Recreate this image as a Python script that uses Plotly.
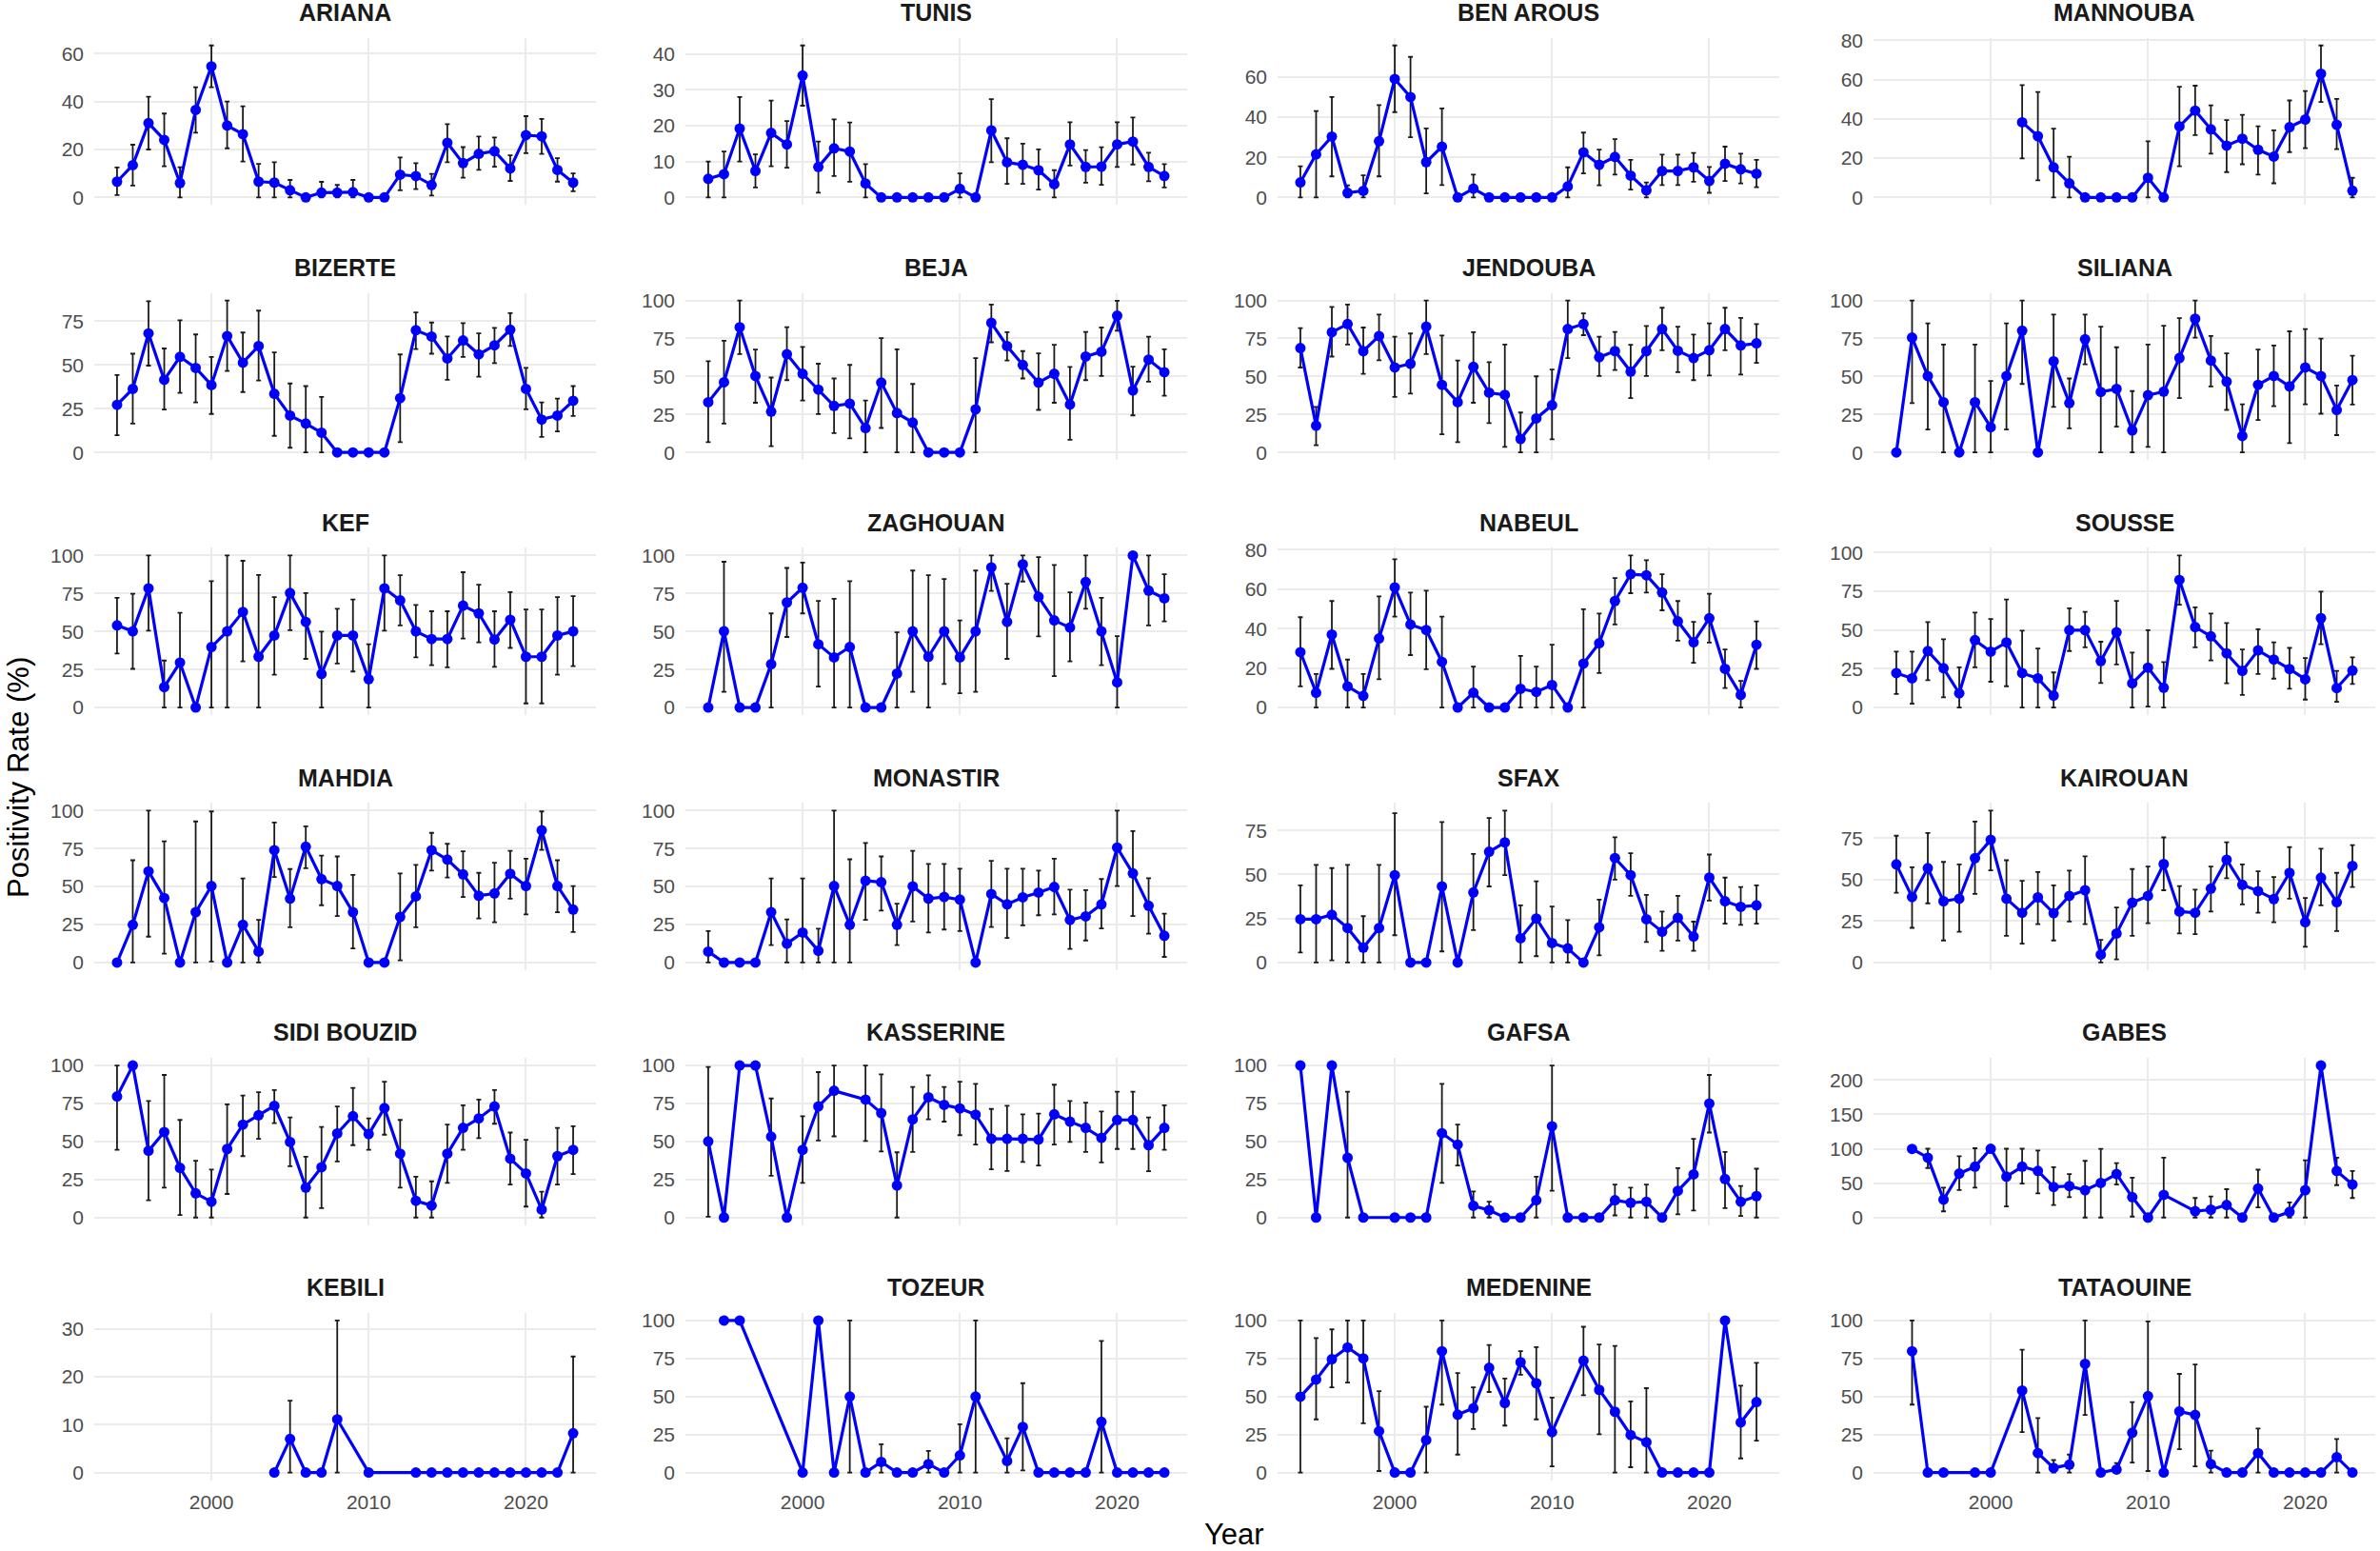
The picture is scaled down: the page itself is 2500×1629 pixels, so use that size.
import plotly.graph_objects as go

YEARS = list(range(1994, 2024))

PROVINCES = ["ARIANA", "TUNIS", "BEN AROUS", "MANNOUBA",
             "BIZERTE", "BEJA", "JENDOUBA", "SILIANA",
             "KEF", "ZAGHOUAN", "NABEUL", "SOUSSE",
             "MAHDIA", "MONASTIR", "SFAX", "KAIROUAN",
             "SIDI BOUZID", "KASSERINE", "GAFSA", "GABES",
             "KEBILI", "TOZEUR", "MEDENINE", "TATAOUINE"]

N = None

ARIANA_RATE = [6.6,13.5,31,24,6,36.5,54.7,30,26.4,6.6,6.2,3,0,2,2,2.2,0,0,9.5,8.9,5.2,22.8,14.3,18.2,19.3,12.1,26,25.5,11.5,6.2]
ARIANA_LO = [1,5,20,13,0,27,46,20.5,15,0,0,0,0,0,0,0,0,0,3,3.5,0.8,14.7,8.2,11.5,12.8,6.9,18.5,18.2,6.6,2.6]
ARIANA_HI = [12.5,22,42,35,12.6,46,63.4,40,38,14,14.7,7.3,0,6.5,5.2,7.3,0,0,16.7,14.3,9.8,30.6,21,25.4,25,17.6,33.9,32.8,16.4,10]

TUNIS_RATE = [5.2,6.5,19.2,7.4,18,14.8,34,8.5,13.7,12.8,3.9,0,0,0,0,0,2.4,0,18.7,9.8,9.1,7.6,3.7,14.8,8.5,8.6,14.8,15.6,8.5,6]
TUNIS_LO = [0,0,10,2.8,8.7,8.3,25.6,1.3,6,4.4,0,0,0,0,0,0,0,0,9.8,3.8,3.8,2.2,0,8.9,4.1,3.5,8.5,9.2,4.5,2.8]
TUNIS_HI = [10,12.8,28,12,27,21.3,42.4,15.6,21.8,20.9,9.3,0,0,0,0,0,6.7,0,27.4,16.5,15,13.4,7.6,21,13.2,14,21,22.3,12.5,9.3]

BEN_AROUS_RATE = [7.5,21.5,30.3,2.3,3.3,28,59,50,17.6,25.3,0,4.4,0,0,0,0,0,5.5,22.5,16.3,20.2,10.9,3.6,13.2,13.2,15,8.2,16.8,14,11.8]
BEN_AROUS_LO = [0,0,10.5,0,0,10.5,42.5,30,2,6.2,0,0,0,0,0,0,0,0,12,6,11.4,3.9,0,6.2,6.2,7.8,2.3,8.2,7,5.1]
BEN_AROUS_HI = [15.5,43,50,6,11,46,75.7,70,34.4,44.3,0,11.4,0,0,0,0,0,15,32.3,23.8,29,18.7,7.5,21.3,21.3,22.2,15.2,25.3,21.8,18.7]

MANNOUBA_RATE = [N,N,N,N,N,N,N,N,38.3,31.2,15.3,7.2,0,0,0,0,10,0,36.2,44.2,34.7,26.4,29.9,24.3,20.8,35.8,39.7,63,37,3.4]
MANNOUBA_LO = [N,N,N,N,N,N,N,N,19.9,8.7,0,0,0,0,0,0,0,0,15.9,31.8,22.3,12.9,16.9,11.6,7.2,23.1,25.1,48.6,24.6,0]
MANNOUBA_HI = [N,N,N,N,N,N,N,N,57.2,53.7,35,20.7,0,0,0,0,28.6,0,56.4,56.9,46.9,39.4,42.1,36.2,34.2,49.4,54.2,77.4,50.2,10]

BIZERTE_RATE = [27.2,36.3,68,41.5,54.6,48.3,38.5,66.5,51.3,60.8,33.5,21.1,16.5,11.3,0,0,0,0,31,69.8,66.2,53.7,64,56,61.2,70.1,36.3,18.8,21.1,29.5]
BIZERTE_LO = [9.8,16.5,49.6,24.5,34,28.6,22,46.5,34.5,41.1,9.5,2.7,0,0,0,0,0,0,5.9,59,56.4,41.5,54.6,43.3,51,60.8,24.7,8.9,12,20.9]
BIZERTE_HI = [44.2,56.4,86.4,59.4,75.5,67.4,54.6,86.8,68.5,81,57.2,39.4,37.9,31.7,0,0,0,0,56,80,74.2,66.2,73.9,68,71.2,79.6,48.3,28.6,30.8,37.9]

BEJA_RATE = [33.1,46.2,82.4,50.3,26.9,64.6,51.8,41.4,30.6,32.1,16.1,46,25.9,19.7,0,0,0,28.4,85.3,70,57.6,46,51.8,31.5,63.1,66.3,90,40.8,61.1,52.8]
BEJA_LO = [6.8,19,64.8,32.7,4.1,47.6,34.2,25.3,12.8,9.3,0,16.1,0,0,0,0,0,0,72.5,60.5,48.7,28,32.7,8.3,47.6,50.3,80.1,24.4,46.6,37.3]
BEJA_HI = [60,73.5,100,67.7,49.3,82.4,69.4,58.4,48.7,57.6,34.2,75.2,67.9,45.1,0,0,0,62.1,97.3,79.1,66.7,65.2,70.8,56.3,79.3,82.2,99.8,56.5,76.2,67.9]

JENDOUBA_RATE = [68.7,17.6,79.1,84.5,66.7,76.6,55.9,58.4,82.8,44.5,33.1,56.3,39.3,37.9,8.9,22.4,31.1,81.2,84.5,62.7,66.7,53.2,66.7,81.2,66.9,62.1,67.3,81.2,70.4,71.8]
JENDOUBA_LO = [55.9,4.8,63.1,71,51.8,60.7,36.6,38.7,64.8,12,6.8,32.7,19.3,3.7,0,0,8.7,62.1,77.2,50.3,54.2,35.8,50.3,67.3,52.8,47.6,50.7,67.3,51.3,59]
JENDOUBA_HI = [81.8,30,95.7,97.3,82.2,90.7,76.2,78.3,100,77,60.5,79.1,59.4,71,26.3,50.1,54.5,100,91.5,76.2,79.3,70.8,83.2,95.2,82.8,77.6,84.9,95.2,88.6,84.5]

SILIANA_RATE = [0,75.6,50.3,33.1,0,33.1,16.6,50.3,80.1,0,60,32.5,74.5,39.8,41.8,14.5,37.7,40,62.1,88,60.5,46.6,10.8,44.5,50.3,43.5,55.9,50.3,28,47.6]
SILIANA_LO = [0,32.5,15.1,0,0,0,0,15.1,45.1,0,30,15.9,58,0,17,0,3.7,0,35.8,75.6,43.5,28,0,21.3,30.4,6.2,31.7,25.5,11.4,31.5]
SILIANA_HI = [0,100,84.9,71,0,71,47,84.9,100,0,90.7,48.7,90.7,82.8,69.2,40.4,71,83.4,88.4,100,76.6,65.2,31.7,67.7,70.4,79.7,81.2,74.9,44.1,63.6]

KEF_RATE = [54,50.1,78.4,13.4,29.5,0,39.8,50.1,62.9,33.4,47.4,75.3,56.3,22.1,47.4,47.4,18.6,78.4,70.5,50.1,45,45,67,61.9,44.7,57.7,33.4,33.4,47.4,50.1]
KEF_LO = [35.5,25.4,50.5,0,0,0,0,0,30.3,0,21.6,50.9,32,0,28.9,23.7,0,50.5,54,33,27.8,26.4,45.4,42.9,26.8,39.2,2.7,2.7,21.6,27.2]
KEF_HI = [72.2,74.8,100,30.9,62.3,0,83.1,100,96.5,87.2,72.6,100,75.3,49.9,65,71.1,41.6,100,87,67.4,63.3,63.3,89,80.8,63.3,75.9,64.5,64.5,72.6,73.2]

ZAGHOUAN_RATE = [0,50.1,0,0,28.5,69.1,78.8,41.6,33,39.8,0,0,22.3,50.1,33.4,50.1,33,50.1,92.2,56.3,94.2,72.8,57.3,52.6,82.5,50.1,16.5,100,76.9,71.8]
ZAGHOUAN_LO = [0,10.3,0,0,0,46.4,61.9,13.8,0,0,0,0,0,10.3,0,15.5,9.3,10.3,76.7,32,82.9,46.8,20.6,30.3,65,27.8,0,100,54,56.7]
ZAGHOUAN_HI = [0,95.9,0,0,61.9,91.8,95.3,70.1,71.5,83.1,0,0,49.5,90.1,87,84.5,57.3,90.1,100,81.4,100,99,93.8,75.7,100,72.2,47,100,100,87.6]

NABEUL_RATE = [28.1,7.5,37,10.7,5.9,35,60.9,42.1,39.3,23.1,0,7.5,0,0,9.5,7.9,11.4,0,22.3,32.6,54,67.6,67.1,58.3,43.7,33.1,45.3,19.6,6.4,31.8]
NABEUL_LO = [10.7,0,19.6,0,0,14.3,46.1,26.6,19.4,0,0,0,0,0,0,0,0,0,0,17.5,42.1,58,58.3,49.3,33.9,22.7,32.9,9.9,0,19.6]
NABEUL_HI = [45.8,17,54,24.3,17,56.4,75.2,58.3,59.3,46.1,0,20.7,0,0,26.2,20.7,31.8,0,49.8,47.7,65.7,77.1,74.7,67.6,54,43.4,57.7,29.4,13.5,43.7]

SOUSSE_RATE = [22.2,18.8,36.4,25.3,9.1,43.4,36,42,22.2,18.8,7.7,49.9,49.9,29.9,48.5,15.6,25.7,12.7,82.2,51.9,45.9,34.9,23.6,36.8,30.9,24.8,18.2,57.6,12.5,23.8]
SOUSSE_LO = [8.7,2.4,17.6,6.5,0,25.9,16.6,13.7,0,0,0,36.4,38.8,15.8,27.7,0,0.6,0,66.3,38.8,30.3,15.6,8.1,21.6,18.6,12.1,5.1,40.8,3.6,15.2]
SOUSSE_HI = [36,36,55,44,25.9,61.2,57,69.7,49.5,38,22.6,64,61.6,42.4,68.7,35.4,49.9,29.3,98,64.6,60.6,54.5,37.4,50.5,42,38.4,31.9,74.7,23.6,32.3]

MAHDIA_RATE = [0,24.8,60,42.4,0,33.1,50.3,0,24.8,7.2,73.9,42,76.2,54.9,50.3,33.1,0,0,30,43.5,73.9,67.7,58,43.9,45.5,58.4,50.3,87,50.3,34.8]
MAHDIA_LO = [0,0,17,5.8,0,0,0.6,0,0,0,56.3,23.2,62.1,37.7,30.6,9.3,0,0,1.4,23.2,60.5,55.9,43.1,29,26.5,42,31.7,74.1,33.1,20.1]
MAHDIA_HI = [0,67.3,100,79.7,0,92.8,99.4,0,55.3,28,92.1,61.5,89.6,70.4,69.8,57.6,0,0,58.6,64.2,85.3,78.1,73.1,59,65.6,73.5,68.3,99.4,67.3,50.3]

MONASTIR_RATE = [7.2,0,0,0,33.1,12.4,19.7,7.7,50.3,24.8,53.8,52.8,24.8,50.1,42,43.1,41.4,0,45.1,38.3,42.9,46,49.7,28,30.4,38.3,75.6,58.6,37.3,17.6]
MONASTIR_LO = [0,0,0,0,11.4,0,0,0,0,0,28,34.2,11.4,26.9,19.7,21.7,20.7,0,23.4,16.1,24.4,31.1,31.7,8.9,14.5,22.4,50.3,30.6,19,3.7]
MONASTIR_HI = [20.7,0,0,0,55.3,28.4,55.3,22.2,100,67.9,78.7,69.8,38.7,73.5,64.8,64.8,61.7,0,66.9,61.7,61.7,60.5,68.3,48,47.6,54.9,100,86.5,55.5,32.1]

SFAX_RATE = [24.6,24.6,27.1,19.6,8.4,19.6,49.6,0,0,43.2,0,39.8,62.9,68.2,13.8,25,11.1,8,0,20,59.3,49.6,24.6,17.5,25.4,14.8,48.2,34.8,31.6,32.5]
SFAX_LO = [5.7,0,1.2,0,0,0,15.5,0,0,6.3,0,18.4,43.2,49.6,0,3.6,0,0,0,4.1,47,37.9,11.6,6.6,12.5,6.6,35.2,22,21.4,22]
SFAX_HI = [43.8,55.4,53.6,55.4,26.3,55.4,84.8,0,0,79.8,0,61.6,82.1,86.3,32.5,46.1,31.8,24.1,0,35.7,71.1,62.1,38.4,28.9,37.9,23.2,61.3,48.2,42.9,43.8]

KAIROUAN_RATE = [59.2,39.5,56.9,37,38.5,63,74,38.5,30,39.3,29.8,40.2,43.6,4.7,17.5,36.1,40.2,59.4,30.7,30,44.6,62,46.9,43.1,38.3,54.1,24.3,51.2,36.4,58.3]
KAIROUAN_LO = [42.1,20.9,35.7,13.3,18.6,41.4,55.6,16.1,11.4,23.1,13.3,24.7,23.1,0,1.9,16.1,23.7,43.6,17.5,17.1,30.7,50.9,35.1,30,24.3,38.5,9.5,34.5,19,45.5]
KAIROUAN_HI = [76.5,57.5,78.2,60.7,59.2,85,91.7,61.7,49.3,54.6,46.5,55.4,64.1,13.7,33.2,56.4,57.9,75.5,46.1,44,57.9,72.5,59.2,55,51.6,69.6,38.9,68.7,54.1,70.8]

SIDI_BOUZID_RATE = [79.7,100,43.9,56.3,32.7,15.9,10.4,45.1,61.1,67.3,73.5,49.7,19.7,33.1,55.3,66.7,54.9,72,42,11,7.9,42,59,65.2,73.1,38.7,29,5.2,40.4,44.5]
SIDI_BOUZID_LO = [44.5,100,11.4,19.7,1.7,0,0,15.5,40.4,51.8,62.1,33.7,0,6.2,36.9,47.6,44.5,54.5,19.7,0,0,22.8,44.5,52.2,61.7,21.7,7.2,0,21.7,28.6]
SIDI_BOUZID_HI = [100,100,76.6,93.8,64.2,37.3,31.5,74.5,80.3,82.4,83.9,65.8,40,59.6,73.1,85.3,65.2,89.4,64.2,26.9,23.8,61.1,73.9,77.6,83.9,55.9,51.1,17,59,60]

KASSERINE_RATE = [50.1,0,100,100,53.2,0,44.5,73.1,83.4,N,77.6,68.7,21.1,64.6,79.1,74.1,71.8,67.7,51.8,51.8,51.8,51.3,67.9,63.1,59,52.4,64.2,64.2,47.6,59]
KASSERINE_LO = [0.6,0,100,100,27.5,0,22.8,50.7,53.4,N,50.3,43.5,0,43.1,64.6,63.1,54.2,48,31.7,30.6,36.6,34.2,48,49.7,43.1,36.2,45.1,45.1,30.4,44.5]
KASSERINE_HI = [99,0,100,100,78.3,0,66.7,95.7,100,N,100,94.2,42.9,85.9,93.6,85.9,89.4,88,71.4,73.5,67.9,68.3,87.4,76.6,75.6,69.8,82.8,82.8,65.8,73.9]

GAFSA_RATE = [100,0,100,39.3,0,N,0,0,0,55.5,48,7.7,4.8,0,0,11.4,60,0,0,0,11.4,9.7,10.4,0,17.6,28.4,75,25.3,10.4,14.1]
GAFSA_LO = [100,0,100,0,0,N,0,0,0,22.8,34.2,0,0,0,0,0,17.6,0,0,0,1.4,0,0,0,2.1,4.6,55.9,6.2,1,0]
GAFSA_HI = [100,0,100,82.8,0,N,0,0,0,88,61.1,17.2,10.4,0,0,26.9,100,0,0,0,21.7,19.7,21.7,0,32.5,51.8,93.8,43.1,20.7,32.1]

GABES_RATE = [N,99.8,87,26,64,74,100,59.5,74,67.7,44.4,45.8,39.8,50.3,63.2,29.7,0,33,N,9.2,11.4,18.3,0,42.1,0,8.2,39.8,221,67.7,48]
GABES_LO = [N,99.8,72,9,40,43.5,100,16,49.4,35.2,18.3,29.7,0,0,48,1.4,0,0,N,0,0,0,0,14.6,0,0,0,221,47.1,28.4]
GABES_HI = [N,99.8,100,43.5,89,100.7,100,100,100,97.5,73.2,63.2,82.4,99.8,79.2,58.1,0,87,N,28.4,30.7,41.2,0,69.6,0,22,83.3,221,87,67.7]

KEBILI_RATE = [N,N,N,N,N,N,N,N,N,N,0,7,0,0,11.1,N,0,N,N,0,0,0,0,0,0,0,0,0,0,8.2]
KEBILI_LO = [N,N,N,N,N,N,N,N,N,N,0,0,0,0,0,N,0,N,N,0,0,0,0,0,0,0,0,0,0,0]
KEBILI_HI = [N,N,N,N,N,N,N,N,N,N,0,15,0,0,31.7,N,0,N,N,0,0,0,0,0,0,0,0,0,0,24.2]

TOZEUR_RATE = [N,100,100,N,N,N,0,100,0,50,0,7,0,0,5.6,0,11.3,50,N,7.6,30,0,0,0,0,33.4,0,0,0,0]
TOZEUR_LO = [N,100,100,N,N,N,0,100,0,0,0,0,0,0,0,0,0,0,N,0,1.4,0,0,0,0,0,0,0,0,0]
TOZEUR_HI = [N,100,100,N,N,N,0,100,0,100,0,18.6,0,0,14.2,0,31.8,100,N,22.5,58.8,0,0,0,0,86.6,0,0,0,0]

MEDENINE_RATE = [49.9,61.2,74.6,82.3,75.1,27.2,0,0,21.4,79.8,38.1,42.3,68.9,45.8,72.6,58.8,26.6,N,73.6,54.4,40,24.7,20,0,0,0,0,100,33,46.4]
MEDENINE_LO = [0,35,56.1,59.2,32.4,1,0,0,0,44.7,11.8,28.7,53,30.9,64.3,35,4.1,N,50.9,25.2,0,3.5,0,0,0,0,0,100,9.3,21]
MEDENINE_HI = [100,88.5,94.2,100,100,53.6,0,0,43.3,100,65.4,56.1,83.9,61.9,79.8,82.5,49.3,N,95.9,84.3,83.3,46.8,55.5,0,0,0,0,100,57.1,72.2]

TATAOUINE_RATE = [N,79.8,0,0,N,0,0,N,54,12.8,3.1,5.2,71.5,0,2,26.2,50.3,0,40.2,37.9,5.6,0,0,12.8,0,0,0,0,10.1,0]
TATAOUINE_LO = [N,44.7,0,0,N,0,0,N,26.6,0,0,0,37.9,0,0,6.6,1,0,15.3,4.1,0,0,0,0,0,0,0,0,0,0]
TATAOUINE_HI = [N,100,0,0,N,0,0,N,80.8,35.9,8.2,11.8,100,0,6.2,46.4,99.4,0,64.9,71.1,14.4,0,0,28.9,0,0,0,0,22.1,0]

TICK_STEP = [20, 10, 20, 20,
             25, 25, 25, 25,
             25, 25, 20, 25,
             25, 25, 25, 25,
             25, 25, 25, 50,
             10, 25, 25, 25]

X_TICKS = [2000, 2010, 2020]

SERIES = {
    "ARIANA": (ARIANA_RATE, ARIANA_LO, ARIANA_HI),
    "TUNIS": (TUNIS_RATE, TUNIS_LO, TUNIS_HI),
    "BEN AROUS": (BEN_AROUS_RATE, BEN_AROUS_LO, BEN_AROUS_HI),
    "MANNOUBA": (MANNOUBA_RATE, MANNOUBA_LO, MANNOUBA_HI),
    "BIZERTE": (BIZERTE_RATE, BIZERTE_LO, BIZERTE_HI),
    "BEJA": (BEJA_RATE, BEJA_LO, BEJA_HI),
    "JENDOUBA": (JENDOUBA_RATE, JENDOUBA_LO, JENDOUBA_HI),
    "SILIANA": (SILIANA_RATE, SILIANA_LO, SILIANA_HI),
    "KEF": (KEF_RATE, KEF_LO, KEF_HI),
    "ZAGHOUAN": (ZAGHOUAN_RATE, ZAGHOUAN_LO, ZAGHOUAN_HI),
    "NABEUL": (NABEUL_RATE, NABEUL_LO, NABEUL_HI),
    "SOUSSE": (SOUSSE_RATE, SOUSSE_LO, SOUSSE_HI),
    "MAHDIA": (MAHDIA_RATE, MAHDIA_LO, MAHDIA_HI),
    "MONASTIR": (MONASTIR_RATE, MONASTIR_LO, MONASTIR_HI),
    "SFAX": (SFAX_RATE, SFAX_LO, SFAX_HI),
    "KAIROUAN": (KAIROUAN_RATE, KAIROUAN_LO, KAIROUAN_HI),
    "SIDI BOUZID": (SIDI_BOUZID_RATE, SIDI_BOUZID_LO, SIDI_BOUZID_HI),
    "KASSERINE": (KASSERINE_RATE, KASSERINE_LO, KASSERINE_HI),
    "GAFSA": (GAFSA_RATE, GAFSA_LO, GAFSA_HI),
    "GABES": (GABES_RATE, GABES_LO, GABES_HI),
    "KEBILI": (KEBILI_RATE, KEBILI_LO, KEBILI_HI),
    "TOZEUR": (TOZEUR_RATE, TOZEUR_LO, TOZEUR_HI),
    "MEDENINE": (MEDENINE_RATE, MEDENINE_LO, MEDENINE_HI),
    "TATAOUINE": (TATAOUINE_RATE, TATAOUINE_LO, TATAOUINE_HI),
}

# ---------------- layout geometry (pixels) ----------------
W, H = 2500, 1629
COL_LEFT = [99, 720, 1342, 1968]
PANEL_W = 527
ROW_TOP = [30, 300, 570, 840, 1110, 1380]
PANEL_H = 177
FONT = "Liberation Sans"
GRID = "#EBEBEB"
TICK_COLOR = "#4D4D4D"
BLUE = "#0000FF"

fig = go.Figure()
layout = {}
annotations = []

x_lo, x_hi = min(YEARS), max(YEARS)
x_pad = 0.05 * (x_hi - x_lo)

for i, name in enumerate(PROVINCES):
    r, c = divmod(i, 4)
    k = i + 1
    xa = "x" if k == 1 else f"x{k}"
    ya = "y" if k == 1 else f"y{k}"
    rate, lo, hi = SERIES[name]

    ex, ey, eplus, eminus = [], [], [], []
    for yr, v, l, h in zip(YEARS, rate, lo, hi):
        if v is None:
            continue
        ex.append(yr)
        ey.append(v)
        eplus.append(h - v)
        eminus.append(v - l)

    fig.add_trace(go.Scatter(
        x=ex, y=ey, mode="markers", xaxis=xa, yaxis=ya,
        marker=dict(size=1, color="rgba(0,0,0,0)"),
        error_y=dict(type="data", symmetric=False, array=eplus, arrayminus=eminus,
                     color="#1A1A1A", thickness=1.8, width=2.5),
        hoverinfo="skip", showlegend=False))
    fig.add_trace(go.Scatter(
        x=YEARS, y=rate, mode="lines+markers", xaxis=xa, yaxis=ya,
        connectgaps=True,
        line=dict(color=BLUE, width=3.2),
        marker=dict(color=BLUE, size=11),
        showlegend=False))

    vals_lo = [v for v in lo if v is not None]
    vals_hi = [v for v in hi if v is not None]
    ymin, ymax = min(vals_lo), max(vals_hi)
    span = ymax - ymin
    yrange = [ymin - 0.05 * span, ymax + 0.05 * span]

    x0 = COL_LEFT[c] / W
    x1 = (COL_LEFT[c] + PANEL_W) / W
    y1 = 1 - ROW_TOP[r] / H
    y0 = 1 - (ROW_TOP[r] + PANEL_H) / H

    layout["xaxis" if k == 1 else f"xaxis{k}"] = dict(
        domain=[x0, x1], anchor=ya, range=[x_lo - x_pad, x_hi + x_pad],
        tickvals=X_TICKS, showticklabels=(r == 5), showgrid=True,
        gridcolor=GRID, gridwidth=1.6, zeroline=False, showline=False,
        ticks="", ticklabelstandoff=8,
        tickfont=dict(family=FONT, size=21, color=TICK_COLOR))
    layout["yaxis" if k == 1 else f"yaxis{k}"] = dict(
        domain=[y0, y1], anchor=xa, range=yrange,
        tick0=0, dtick=TICK_STEP[i], showgrid=True,
        gridcolor=GRID, gridwidth=1.6, zeroline=False, showline=False,
        ticks="", ticklabelstandoff=10,
        tickfont=dict(family=FONT, size=21, color=TICK_COLOR))

    annotations.append(dict(
        text=f"<b>{name}</b>", x=(x0 + x1) / 2, y=y1 + 27 / H,
        xref="paper", yref="paper", xanchor="center", yanchor="middle",
        showarrow=False, font=dict(family=FONT, size=25, color="#1A1A1A")))

annotations.append(dict(
    text="Year", x=1296 / W, y=0, xref="paper", yref="paper",
    xanchor="center", yanchor="bottom", yshift=-5, showarrow=False,
    font=dict(family=FONT, size=31, color="#000000")))
annotations.append(dict(
    text="Positivity Rate (%)", x=0, y=1 - 813 / H, xref="paper", yref="paper",
    xanchor="left", yanchor="middle", textangle=-90, showarrow=False,
    font=dict(family=FONT, size=31, color="#000000")))

fig.update_layout(
    width=W, height=H, margin=dict(l=0, r=0, t=0, b=0),
    paper_bgcolor="white", plot_bgcolor="white",
    annotations=annotations, showlegend=False,
    font=dict(family=FONT), **layout)

fig.write_html("out.html", config={"displayModeBar": False},
               post_script="document.body.style.margin='0px';")
